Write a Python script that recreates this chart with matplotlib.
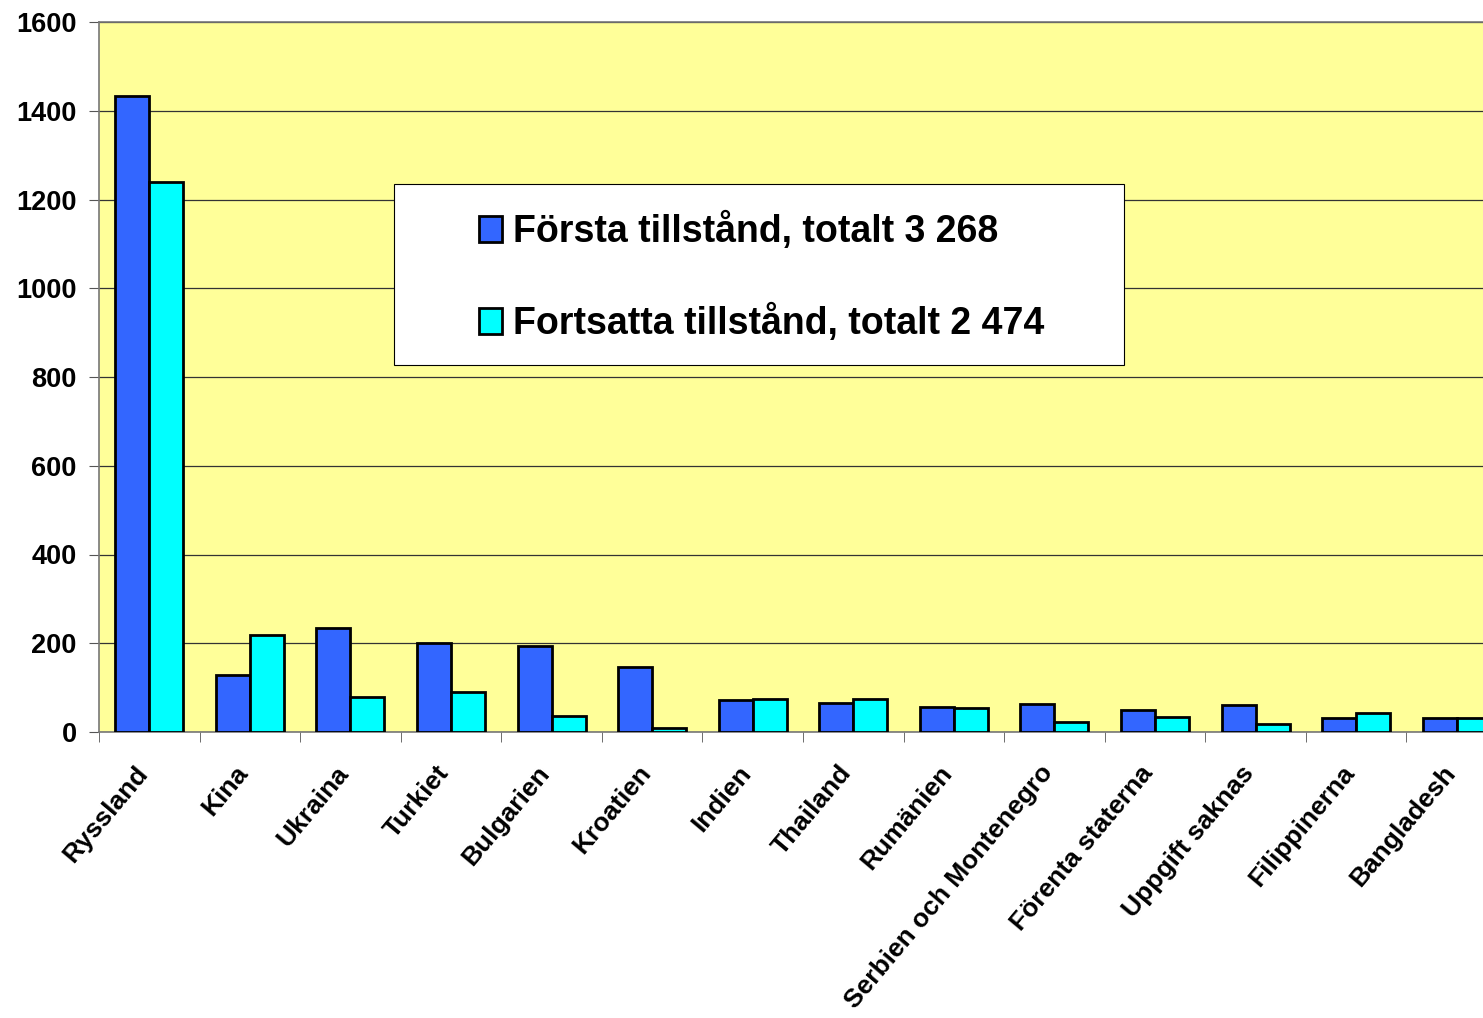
import matplotlib.pyplot as plt
import matplotlib.patches as mpatches
import numpy as np

plt.rcParams['font.family'] = ['Liberation Sans', 'DejaVu Sans']
plt.rcParams['font.weight'] = 'bold'

countries = ["Ryssland", "Kina", "Ukraina", "Turkiet", "Bulgarien", "Kroatien",
             "Indien", "Thailand", "Rumänien", "Serbien och Montenegro",
             "Förenta staterna", "Uppgift saknas", "Filippinerna", "Bangladesh"]
forsta = [1433, 128, 234, 200, 194, 146, 72, 66, 56, 63, 49, 61, 32, 32]
fortsatta = [1239, 219, 79, 90, 36, 9, 74, 74, 55, 22, 34, 18, 43, 32]
labels = ["Första tillstånd, totalt 3 268", "Fortsatta tillstånd, totalt 2 474"]

W, H = 1483, 1018
fig = plt.figure(figsize=(W / 100, H / 100), dpi=100)
ax = fig.add_axes([99 / W, (H - 732) / H, 1408 / W, 710 / H])
ax.set_facecolor('#FFFF99')

x = np.arange(len(countries)) + 0.5
bw = 0.338
ax.bar(x - bw / 2, forsta, bw, color='#3366FF', edgecolor='black', linewidth=2,
       label=labels[0], zorder=3)
ax.bar(x + bw / 2, fortsatta, bw, color='#00FFFF', edgecolor='black', linewidth=2,
       label=labels[1], zorder=3)

ax.set_xlim(0, len(countries))
ax.set_ylim(0, 1600)
ax.set_yticks(range(0, 1601, 200))
ax.yaxis.grid(True, color='#333333', linewidth=0.9, zorder=1)

# category labels sit a little left of the group centre (invisible major ticks)
ax.set_xticks(x - 0.15)
ax.set_xticklabels(countries, rotation=50, ha='right', va='top',
                   rotation_mode='anchor', fontsize=19, fontweight='bold')
ax.set_xticks(np.arange(len(countries) + 1), minor=True)
ax.tick_params(axis='x', which='major', length=0, pad=21)
ax.tick_params(axis='x', which='minor', length=7, color='#555555')
ax.tick_params(axis='y', length=7, color='#555555', labelsize=19.5, pad=9)
for lab in ax.get_yticklabels():
    lab.set_fontweight('bold')

for side in ['left', 'bottom', 'top']:
    ax.spines[side].set_color('#777777')
    ax.spines[side].set_linewidth(1.2)
ax.spines['right'].set_visible(False)

# legend box
box = mpatches.Rectangle((394 / W, (H - 365) / H), 730 / W, 181 / H,
                         transform=fig.transFigure, facecolor='white',
                         edgecolor='black', linewidth=0.8, zorder=4, clip_on=False)
ax.add_patch(box)
leg = ax.legend(loc='center', bbox_to_anchor=(762 / W, (H - 277) / H),
                bbox_transform=fig.transFigure, frameon=False,
                prop={'size': 27, 'weight': 'bold'}, handlelength=0.6,
                handleheight=0.7, handletextpad=0.3, labelspacing=1.45)
leg.set_zorder(5)

fig.savefig('out.png', dpi=100)
